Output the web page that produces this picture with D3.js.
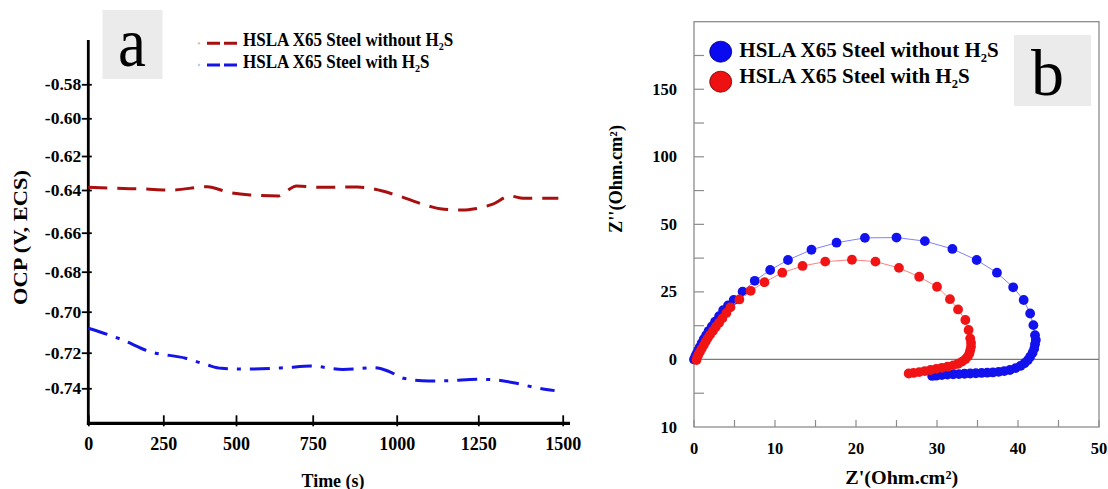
<!DOCTYPE html>
<html><head><meta charset="utf-8">
<script src="https://cdn.jsdelivr.net/npm/d3@7"></script>
<style>
body{margin:0;background:#fff;}
svg{display:block;font-family:"Liberation Serif","Times New Roman",serif;}
</style></head><body>
<svg id="c" width="1108" height="489"></svg>
<script>
// ---------- Panel a data ----------
const timeTicks = [0, 250, 500, 750, 1000, 1250, 1500];
const ocpTicks = [-0.58, -0.60, -0.62, -0.64, -0.66, -0.68, -0.70, -0.72, -0.74];
const seriesNames = ["HSLA X65 Steel without H", "HSLA X65 Steel with H"];

const timeWithout = [0, 90, 182, 278, 401, 475, 546, 639, 662, 697, 776, 883, 936, 989, 1098, 1133, 1204, 1240, 1293, 1344, 1383, 1487];
const ocpWithout  = [-0.6384, -0.6390, -0.6394, -0.6400, -0.6381, -0.6411, -0.6423, -0.6428, -0.6408, -0.6376, -0.6384, -0.6382, -0.6396, -0.6419, -0.6475, -0.6488, -0.6494, -0.6488, -0.6466, -0.6428, -0.6439, -0.6439];

const timeWith = [0, 110, 206, 327, 401, 450, 546, 662, 743, 840, 936, 978, 1021, 1098, 1163, 1245, 1301, 1363, 1422, 1476];
const ocpWith  = [-0.7081, -0.7135, -0.7195, -0.7231, -0.7269, -0.7288, -0.7292, -0.7284, -0.7275, -0.7294, -0.7284, -0.7306, -0.7344, -0.7359, -0.7357, -0.7349, -0.7353, -0.7372, -0.7397, -0.7413];

// ---------- Panel b data ----------
const zReWithout = [0,0.15,0.3,0.5,0.7,0.95,1.2,1.5,1.8,2.2,2.6,3.1,3.6,4.2,4.9,6.0,7.5,9.4,11.6,14.5,17.6,21.1,25.0,28.5,31.9,34.9,37.4,39.4,40.7,41.5,41.9,42.1,42.2,42.1,42.0,41.8,41.5,41.2,40.8,40.3,39.7,39.0,38.3,37.6,36.9,36.2,35.5,34.8,34.1,33.4,32.7,32.0,31.3,30.6,29.9,29.4];
const zImWithout = [0,1,2,3.2,4.5,6,7.5,9,10.5,12.2,14,16,18.2,20,22,25.1,29.1,33.1,36.8,40.6,43.2,45.0,45.1,43.8,40.9,36.8,32.1,26.7,22.0,17.0,12.7,9.0,7.2,5.6,4.0,2.5,1.0,-0.3,-1.4,-2.4,-3.2,-3.9,-4.3,-4.6,-4.8,-4.9,-5.0,-5.1,-5.2,-5.3,-5.4,-5.5,-5.6,-5.8,-6.0,-6.1];
const zReWith = [0.3,0.4,0.55,0.75,0.95,1.2,1.45,1.7,2.0,2.35,2.7,3.1,3.5,4.0,4.5,5.6,7.0,8.7,10.9,13.4,16.2,19.5,22.4,25.3,27.8,30.0,31.6,32.6,33.5,33.9,34.1,34.2,34.2,34.1,34.0,33.8,33.5,33.1,32.6,32.0,31.3,30.6,29.9,29.2,28.5,27.8,27.1,26.5];
const zImWith = [-0.2,0.8,1.8,2.9,4.0,5.3,6.6,7.9,9.2,10.6,12.1,13.6,15.2,17.2,19.3,22.2,25.4,28.6,32.1,34.6,36.2,36.9,36.2,33.9,30.6,26.9,22.3,18.5,14.6,10.9,7.8,6.2,4.7,3.4,2.2,1.1,0.1,-0.8,-1.6,-2.2,-2.7,-3.1,-3.5,-3.9,-4.3,-4.7,-5.0,-5.2];

const zxTicks = [0, 10, 20, 30, 40, 50];
const zxMinor = [0, 5, 10, 15, 20, 25, 30, 35, 40, 45, 50];
const zyTickVals = [-25, 0, 25, 50, 75, 100];
const zyTickLabels = ["10", "0", "25", "50", "100", "150"];
const zyMinor = [-12.5, 0, 12.5, 25, 37.5, 50, 62.5, 75, 87.5, 100, 112.5];

const svg = d3.select("#c");

// ================= PANEL A =================
const xA = d3.scaleLinear().domain(timeTicks).range([88.3, 163.3, 236, 312.7, 396.7, 478.3, 562.7]);
const yA = d3.scaleLinear().domain(ocpTicks).range([84.3, 118.3, 156, 190, 232.7, 271.7, 311.7, 352.7, 388.3]);
const axA = {left: 88.3, bottom: 423.3, top: 40, right: 570};

const gA = svg.append("g");
gA.append("rect").attr("x", 102.5).attr("y", 10).attr("width", 60).attr("height", 69).attr("fill", "#ebebeb");
gA.append("text").attr("transform", "translate(132,66) scale(0.9,1)").attr("text-anchor", "middle")
  .attr("font-size", 70).text("a");

gA.append("line").attr("x1", axA.left).attr("x2", axA.left).attr("y1", axA.top).attr("y2", axA.bottom + 1.5)
  .attr("stroke", "#000").attr("stroke-width", 2.8);
gA.append("line").attr("x1", axA.left - 1.4).attr("x2", axA.right).attr("y1", axA.bottom).attr("y2", axA.bottom)
  .attr("stroke", "#000").attr("stroke-width", 3.2);

const xAxisA = gA.append("g").attr("transform", `translate(0,${axA.bottom})`)
  .call(d3.axisBottom(xA).tickValues(timeTicks).tickSizeOuter(0).tickSizeInner(-8).tickPadding(14).tickFormat(d => String(d)));
xAxisA.select(".domain").remove();
xAxisA.selectAll(".tick line").attr("y1", 3).attr("y2", -8).attr("stroke-width", 1.8);
xAxisA.selectAll(".tick text").attr("font-family", "Liberation Serif").attr("font-weight", "bold")
  .attr("font-size", 18).attr("fill", "#000");

const yAxisA = gA.append("g").attr("transform", `translate(${axA.left},0)`)
  .call(d3.axisLeft(yA).tickValues(ocpTicks).tickSizeOuter(0).tickSizeInner(6.5).tickPadding(0.5).tickFormat(d => d.toFixed(2)));
yAxisA.select(".domain").remove();
yAxisA.selectAll(".tick line").attr("x1", 3.5).attr("x2", -6.5).attr("stroke-width", 1.8);
yAxisA.selectAll(".tick text").attr("font-family", "Liberation Serif").attr("font-weight", "bold")
  .attr("font-size", 17.5).attr("fill", "#000");

gA.append("text").attr("x", 333).attr("y", 486.5).attr("text-anchor", "middle")
  .attr("font-weight", "bold").attr("font-size", 19.5).attr("textLength", 63).attr("lengthAdjust", "spacingAndGlyphs").text("Time (s)");
gA.append("text").attr("transform", "translate(26.5,237.5) rotate(-90)").attr("text-anchor", "middle")
  .attr("font-weight", "bold").attr("font-size", 19.5).attr("textLength", 135).attr("lengthAdjust", "spacingAndGlyphs").text("OCP (V, ECS)");

const lineA = d3.line().x(d => xA(d[0])).y(d => yA(d[1])).curve(d3.curveMonotoneX);
gA.append("path").datum(d3.zip(timeWithout, ocpWithout)).attr("d", lineA)
  .attr("fill", "none").attr("stroke", "#a80f0f").attr("stroke-width", 3).attr("stroke-dasharray", "19,10");
gA.append("path").datum(d3.zip(timeWith, ocpWith)).attr("d", lineA)
  .attr("fill", "none").attr("stroke", "#1414e6").attr("stroke-width", 3).attr("stroke-dasharray", "20,9,4,9");

const legA = [{y: 43.3, c: "#a80f0f", dot: "#f2b8b8", name: seriesNames[0]}, {y: 65, c: "#1414e6", dot: "#b8c8f2", name: seriesNames[1]}];
legA.forEach(l => {
  gA.append("circle").attr("cx", 199).attr("cy", l.y).attr("r", 1.2).attr("fill", l.dot);
  gA.append("line").attr("x1", 207).attr("x2", 237).attr("y1", l.y).attr("y2", l.y)
    .attr("stroke", l.c).attr("stroke-width", 3).attr("stroke-dasharray", "13,4");
  const t = gA.append("text").attr("transform", `translate(243,${l.y + 2.5}) scale(0.92,1)`)
    .attr("font-weight", "bold").attr("font-size", 18.5);
  t.append("tspan").text(l.name);
  t.append("tspan").attr("font-size", 11).attr("dy", 4).text("2");
  t.append("tspan").attr("dy", -4).text("S");
});

// ================= PANEL B =================
const xB = d3.scaleLinear().domain([0, 50]).range([694, 1099]);
const yB = d3.scaleLinear().domain([-25, 125]).range([427, 21.7]);
const gB = svg.append("g");

gB.append("rect").attr("x", xB(0)).attr("y", yB(125)).attr("width", xB(50) - xB(0)).attr("height", yB(-25) - yB(125))
  .attr("fill", "none").attr("stroke", "#8c8c8c").attr("stroke-width", 1.3);
gB.append("line").attr("x1", xB(0)).attr("x2", xB(50)).attr("y1", yB(0)).attr("y2", yB(0))
  .attr("stroke", "#7a7a7a").attr("stroke-width", 1.2);

gB.selectAll(".yt").data(zyMinor).join("line").attr("x1", xB(0)).attr("x2", xB(0) + 10)
  .attr("y1", d => yB(d)).attr("y2", d => yB(d)).attr("stroke", "#8c8c8c").attr("stroke-width", 1.2);
gB.selectAll(".xt").data(zxMinor).join("line").attr("x1", d => xB(d)).attr("x2", d => xB(d))
  .attr("y1", yB(-25)).attr("y2", yB(-25) - 7).attr("stroke", "#8c8c8c").attr("stroke-width", 1.2);

gB.selectAll(".ytl").data(zyTickVals).join("text").attr("x", 677).attr("y", d => yB(d) + 5.5)
  .attr("text-anchor", "end").attr("font-weight", "bold").attr("font-size", 16.5).text((d, i) => zyTickLabels[i]);
gB.selectAll(".xtl").data(zxTicks).join("text").attr("x", d => xB(d)).attr("y", 453.5)
  .attr("text-anchor", "middle").attr("font-weight", "bold").attr("font-size", 16.5).text(d => d);

gB.append("text").attr("x", 901.7).attr("y", 484).attr("text-anchor", "middle")
  .attr("font-weight", "bold").attr("font-size", 19).attr("textLength", 113).attr("lengthAdjust", "spacingAndGlyphs").text("Z'(Ohm.cm²)");
gB.append("text").attr("transform", "translate(622,179) rotate(-90)").attr("text-anchor", "middle")
  .attr("font-weight", "bold").attr("font-size", 18).attr("textLength", 108).attr("lengthAdjust", "spacingAndGlyphs").text("Z''(Ohm.cm²)");

const lineB = d3.line().x(d => xB(d[0])).y(d => yB(d[1]));
const seriesB = [
  {re: zReWithout, im: zImWithout, fill: "#1212ee", line: "#8080ff"},
  {re: zReWith, im: zImWith, fill: "#f01414", line: "#ff8080"}
];
seriesB.forEach(s => {
  const pts = d3.zip(s.re, s.im);
  gB.append("path").datum(pts).attr("d", lineB).attr("fill", "none").attr("stroke", s.line).attr("stroke-width", 1);
  gB.append("g").selectAll("circle").data(pts).join("circle")
    .attr("cx", d => xB(d[0])).attr("cy", d => yB(d[1])).attr("r", 4.9).attr("fill", s.fill);
});

const legB = [{cy: 51.7, ty: 57.3, fill: "#0a0af0", stroke: "#00006a", name: seriesNames[0]},
              {cy: 81.7, ty: 83.3, fill: "#ee1111", stroke: "#6a0000", name: seriesNames[1]}];
legB.forEach(l => {
  gB.append("ellipse").attr("cx", 720.7).attr("cy", l.cy).attr("rx", 11).attr("ry", 10.5)
    .attr("fill", l.fill).attr("stroke", l.stroke).attr("stroke-width", 0.8);
  const t = gB.append("text").attr("x", 739.3).attr("y", l.ty).attr("font-weight", "bold").attr("font-size", 21);
  t.append("tspan").text(l.name);
  t.append("tspan").attr("font-size", 12.5).attr("dy", 5).text("2");
  t.append("tspan").attr("dy", -5).text("S");
});

gB.append("rect").attr("x", 1014).attr("y", 35).attr("width", 77).attr("height", 71).attr("fill", "#ebebeb");
gB.append("text").attr("x", 1047.5).attr("y", 95).attr("text-anchor", "middle").attr("font-size", 66).text("b");
</script>
</body></html>
